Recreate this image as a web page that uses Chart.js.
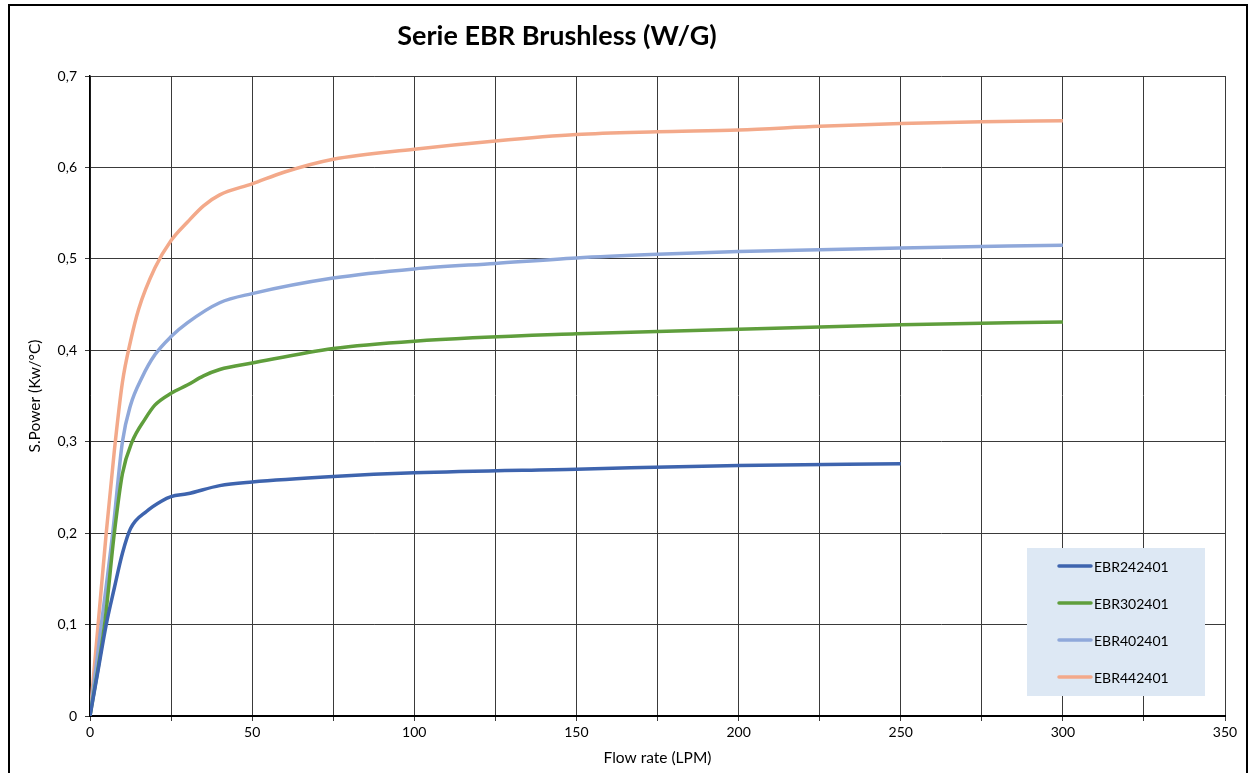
<!DOCTYPE html>
<html>
<head>
<meta charset="utf-8">
<script src="https://cdn.jsdelivr.net/npm/chart.js@4.4.1/dist/chart.umd.min.js"></script>
<style>
    html, body { margin: 0; padding: 0; background: #fff; }
    #wrap { width: 1250px; height: 773px; position: relative; }
</style>
</head>
<body>
<div id="wrap"><canvas id="chart" width="1250" height="773"></canvas></div>
<script>
const seriesNames = ['EBR242401', 'EBR302401', 'EBR402401', 'EBR442401'];
const seriesColors = ['#3e64ae', '#5f9e3c', '#8fa8da', '#f3a98a'];

// flow rate (LPM) / specific power (Kw/°C)
const ebr242401X = [0, 2.5, 5, 7.5, 10, 12.5, 17.5, 22, 25, 30, 40, 50, 75, 100, 150, 200, 250];
const ebr242401Y = [0, 0.05, 0.1, 0.14, 0.178, 0.205, 0.224, 0.235, 0.240, 0.243, 0.252, 0.256, 0.262, 0.266, 0.270, 0.274, 0.276];

const ebr302401X = [0, 4.5, 7.5, 10, 13, 17, 20, 25, 30, 35, 40, 50, 75, 100, 150, 200, 250, 300];
const ebr302401Y = [0, 0.1, 0.2, 0.265, 0.3, 0.325, 0.34, 0.353, 0.362, 0.372, 0.379, 0.386, 0.402, 0.410, 0.418, 0.423, 0.428, 0.431];

const ebr402401X = [0, 3.5, 7, 10, 12.5, 16, 20, 25, 30, 40, 50, 75, 100, 125, 150, 175, 200, 250, 300];
const ebr402401Y = [0, 0.1, 0.2, 0.3, 0.34, 0.37, 0.395, 0.415, 0.43, 0.452, 0.462, 0.479, 0.489, 0.495, 0.501, 0.505, 0.508, 0.512, 0.515];

const ebr442401X = [0, 2.5, 5, 7.5, 10, 12.5, 15, 20, 25, 30, 35, 40, 50, 60, 75, 100, 125, 150, 175, 200, 225, 250, 275, 300];
const ebr442401Y = [0, 0.1, 0.2, 0.29, 0.365, 0.41, 0.445, 0.49, 0.52, 0.54, 0.558, 0.570, 0.582, 0.595, 0.609, 0.620, 0.629, 0.636, 0.639, 0.641, 0.645, 0.648, 0.650, 0.651];

const seriesX = [ebr242401X, ebr302401X, ebr402401X, ebr442401X];
const seriesY = [ebr242401Y, ebr302401Y, ebr402401Y, ebr442401Y];

const fontFamily = 'Lato, "Open Sans", sans-serif';

// frame, title and the boxed legend inside the plot
const decorations = {
    id: 'decorations',
    afterDraw(chart) {
        const ctx = chart.ctx;
        ctx.save();
        ctx.strokeStyle = '#000';
        ctx.lineWidth = 2;
        ctx.strokeRect(9, 5, 1238, 790);

        ctx.fillStyle = '#000';
        ctx.font = 'bold 27px ' + fontFamily;
        ctx.textAlign = 'center';
        ctx.textBaseline = 'middle';
        ctx.fillText('Serie EBR Brushless (W/G)', 557, 36);

        ctx.fillStyle = '#dde8f4';
        ctx.fillRect(1027, 548, 178, 148);
        chart.data.datasets.forEach((ds, i) => {
            const y = 566 + i * 37;
            ctx.strokeStyle = ds.borderColor;
            ctx.lineWidth = 3.5;
            ctx.lineCap = 'round';
            ctx.beginPath();
            ctx.moveTo(1059, y);
            ctx.lineTo(1091, y);
            ctx.stroke();
            ctx.fillStyle = '#000';
            ctx.font = '14px ' + fontFamily;
            ctx.textAlign = 'left';
            ctx.fillText(ds.label, 1094, y + 1);
        });
        ctx.restore();
    }
};

new Chart(document.getElementById('chart'), {
    type: 'line',
    data: {
        datasets: seriesNames.map((name, i) => ({
            label: name,
            data: seriesX[i].map((x, j) => ({ x: x, y: seriesY[i][j] })),
            borderColor: seriesColors[i],
            borderWidth: 3.5,
            pointRadius: 0,
            cubicInterpolationMode: 'monotone',
            fill: false
        }))
    },
    options: {
        responsive: false,
        animation: false,
        layout: { padding: { top: 76, right: 25, left: 0, bottom: 0 } },
        plugins: {
            legend: { display: false },
            title: { display: false },
            tooltip: { enabled: false }
        },
        scales: {
            x: {
                type: 'linear',
                min: 0,
                max: 350,
                afterFit: s => { s.height = 57; },
                ticks: {
                    stepSize: 25,
                    color: '#000',
                    font: { family: fontFamily, size: 14 },
                    padding: 3,
                    maxRotation: 0,
                    autoSkip: false,
                    callback: v => (v % 50 === 0 ? v : '')
                },
                grid: { color: '#3a3a3a', lineWidth: 1, tickLength: 5 },
                border: { color: '#000', width: 2 },
                title: {
                    display: true,
                    text: 'Flow rate (LPM)',
                    color: '#000',
                    font: { family: fontFamily, size: 15.5 },
                    padding: { top: 0, bottom: 6 }
                }
            },
            y: {
                min: 0,
                max: 0.7,
                afterFit: s => { s.width = 90; },
                ticks: {
                    stepSize: 0.1,
                    color: '#000',
                    font: { family: fontFamily, size: 14 },
                    padding: 8,
                    callback: v => v.toFixed(1).replace('.', ',').replace(/^0,0$/, '0')
                },
                grid: { color: '#3a3a3a', lineWidth: 1, tickLength: 5 },
                border: { color: '#000', width: 1.5 },
                title: {
                    display: true,
                    text: 'S.Power (Kw/°C)',
                    color: '#000',
                    font: { family: fontFamily, size: 15.5 },
                    padding: { top: 26, bottom: 0 }
                }
            }
        }
    },
    plugins: [decorations]
});
</script>
</body>
</html>
